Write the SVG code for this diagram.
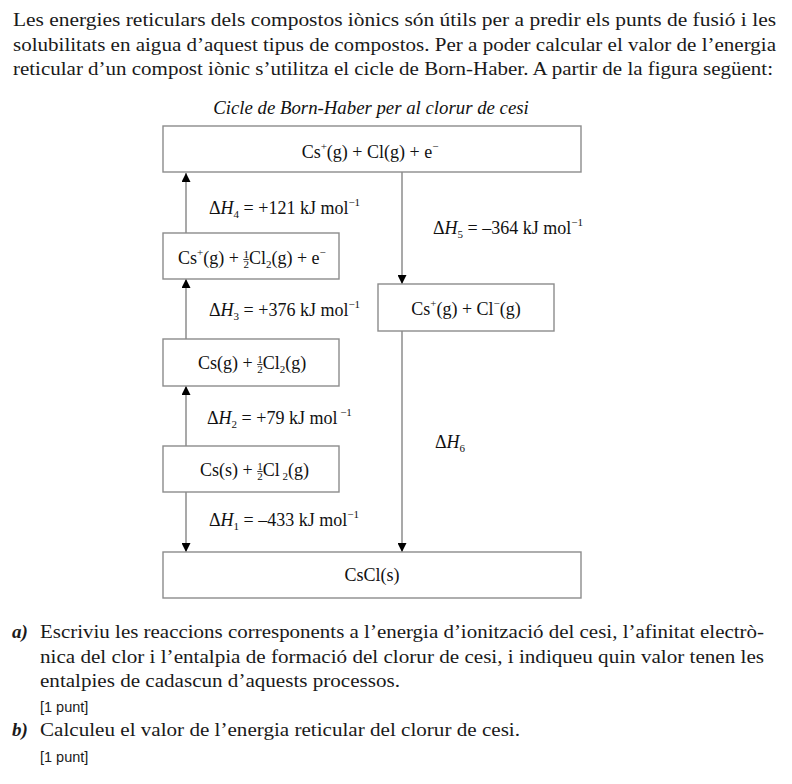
<svg xmlns="http://www.w3.org/2000/svg" width="792" height="784" viewBox="0 0 792 784">
<style>
.p{font-family:"Liberation Serif",serif;font-size:19px;fill:#1a1a1a}
.q{font-family:"Liberation Sans",sans-serif;font-size:14.5px;fill:#1a1a1a}
.lab{font-family:"Liberation Serif",serif;font-size:19px;font-weight:bold;font-style:italic;fill:#1a1a1a}
.t{font-family:"Liberation Serif",serif;font-size:18px;fill:#111}
.ti{font-family:"Liberation Serif",serif;font-size:18.8px;font-style:italic;fill:#111}
.s{font-size:11px}
.box{fill:#fff;stroke:#8c8c8c;stroke-width:1.4}
.con{stroke:#707070;stroke-width:1.2;fill:none}
.bar{stroke:#111;stroke-width:0.8}
</style>
<defs>
<marker id="ah" viewBox="0 0 10 10" refX="10" refY="5" markerWidth="9" markerHeight="9" markerUnits="userSpaceOnUse" orient="auto">
<path d="M0,0 L10,5 L0,10 z" fill="#000"/>
</marker>
</defs>

<g id="intro">
<text class="p" x="13" y="26" textLength="763" lengthAdjust="spacingAndGlyphs">Les energies reticulars dels compostos iònics són útils per a predir els punts de fusió i les</text>
<text class="p" x="13" y="51" textLength="763" lengthAdjust="spacingAndGlyphs">solubilitats en aigua d’aquest tipus de compostos. Per a poder calcular el valor de l’energia</text>
<text class="p" x="13" y="75" textLength="760" lengthAdjust="spacingAndGlyphs">reticular d’un compost iònic s’utilitza el cicle de Born-Haber. A partir de la figura següent:</text>
</g>

<g id="title">
<text class="ti" x="371" y="114" text-anchor="middle">Cicle de Born-Haber per al clorur de cesi</text>
</g>

<g id="connectors">
<line class="con" x1="186" y1="233" x2="186" y2="173" marker-end="url(#ah)"/>
<line class="con" x1="186" y1="339" x2="186" y2="279" marker-end="url(#ah)"/>
<line class="con" x1="186" y1="446" x2="186" y2="386" marker-end="url(#ah)"/>
<line class="con" x1="186" y1="492" x2="186" y2="552" marker-end="url(#ah)"/>
<line class="con" x1="402" y1="172" x2="402" y2="284" marker-end="url(#ah)"/>
<line class="con" x1="402" y1="331" x2="402" y2="552" marker-end="url(#ah)"/>
</g>

<g id="n-top">
<rect class="box" x="163" y="126" width="418" height="46"/>
<text class="t" x="370" y="158" text-anchor="middle">Cs<tspan class="s" dy="-8">+</tspan><tspan dy="8">(g) + Cl(g) + e</tspan><tspan class="s" dy="-8">−</tspan></text>
</g>

<g id="n-csg-half-cl2-e">
<rect class="box" x="163" y="233" width="176" height="46"/>
<text class="t" x="178" y="264">Cs<tspan class="s" dy="-8">+</tspan><tspan dy="8">(g) + </tspan><tspan class="s" dy="-6">1</tspan><tspan class="s" dx="-5.5" dy="10">2</tspan><tspan dy="-4">Cl</tspan><tspan class="s" dy="4">2</tspan><tspan dy="-4">(g) + e</tspan><tspan class="s" dy="-8">−</tspan></text>
<line class="bar" x1="243.3" y1="259.5" x2="248.8" y2="259.5"/>
</g>

<g id="n-csplus-clminus">
<rect class="box" x="378" y="284" width="176" height="47"/>
<text class="t" x="466" y="315" text-anchor="middle">Cs<tspan class="s" dy="-8">+</tspan><tspan dy="8">(g) + Cl</tspan><tspan class="s" dy="-8">−</tspan><tspan dy="8">(g)</tspan></text>
</g>

<g id="n-csg-half-cl2">
<rect class="box" x="163" y="339" width="176" height="47"/>
<text class="t" x="198" y="369">Cs(g) + <tspan class="s" dy="-6">1</tspan><tspan class="s" dx="-5.5" dy="10">2</tspan><tspan dy="-4">Cl</tspan><tspan class="s" dy="4">2</tspan><tspan dy="-4">(g)</tspan></text>
<line class="bar" x1="257.1" y1="364.5" x2="262.6" y2="364.5"/>
</g>

<g id="n-css-half-cl2">
<rect class="box" x="163" y="446" width="176" height="46"/>
<text class="t" x="200" y="476">Cs(s) + <tspan class="s" dy="-6">1</tspan><tspan class="s" dx="-5.5" dy="10">2</tspan><tspan dy="-4">Cl</tspan><tspan class="s" dy="4"> 2</tspan><tspan dy="-4">(g)</tspan></text>
<line class="bar" x1="257.2" y1="471.5" x2="262.7" y2="471.5"/>
</g>

<g id="n-cscl">
<rect class="box" x="163" y="552" width="418" height="46"/>
<text class="t" x="372" y="581" text-anchor="middle">CsCl(s)</text>
</g>

<g id="labels">
<text class="t" x="209" y="214">Δ<tspan font-style="italic">H</tspan><tspan class="s" dy="4">4</tspan><tspan dy="-4"> = +121 kJ mol</tspan><tspan class="s" dy="-8">−1</tspan></text>
<text class="t" x="433" y="234">Δ<tspan font-style="italic">H</tspan><tspan class="s" dy="4">5</tspan><tspan dy="-4"> = –364 kJ mol</tspan><tspan class="s" dy="-8">−1</tspan></text>
<text class="t" x="209" y="316">Δ<tspan font-style="italic">H</tspan><tspan class="s" dy="4">3</tspan><tspan dy="-4"> = +376 kJ mol</tspan><tspan class="s" dy="-8">−1</tspan></text>
<text class="t" x="207" y="424">Δ<tspan font-style="italic">H</tspan><tspan class="s" dy="4">2</tspan><tspan dy="-4"> = +79 kJ mol</tspan><tspan class="s" dy="-8"> −1</tspan></text>
<text class="t" x="435" y="448">Δ<tspan font-style="italic">H</tspan><tspan class="s" dy="4">6</tspan></text>
<text class="t" x="209" y="526">Δ<tspan font-style="italic">H</tspan><tspan class="s" dy="4">1</tspan><tspan dy="-4"> = –433 kJ mol</tspan><tspan class="s" dy="-8">−1</tspan></text>
</g>

<g id="questions">
<text class="lab" x="12" y="638">a)</text>
<text class="p" x="40" y="638" textLength="724" lengthAdjust="spacingAndGlyphs">Escriviu les reaccions corresponents a l’energia d’ionització del cesi, l’afinitat electrò-</text>
<text class="p" x="40" y="663" textLength="724" lengthAdjust="spacingAndGlyphs">nica del clor i l’entalpia de formació del clorur de cesi, i indiqueu quin valor tenen les</text>
<text class="p" x="40" y="687" textLength="360" lengthAdjust="spacingAndGlyphs">entalpies de cadascun d’aquests processos.</text>
<text class="q" x="40" y="712">[1 punt]</text>
<text class="lab" x="12" y="736">b)</text>
<text class="p" x="40" y="736" textLength="480" lengthAdjust="spacingAndGlyphs">Calculeu el valor de l’energia reticular del clorur de cesi.</text>
<text class="q" x="40" y="762">[1 punt]</text>
</g>
</svg>
